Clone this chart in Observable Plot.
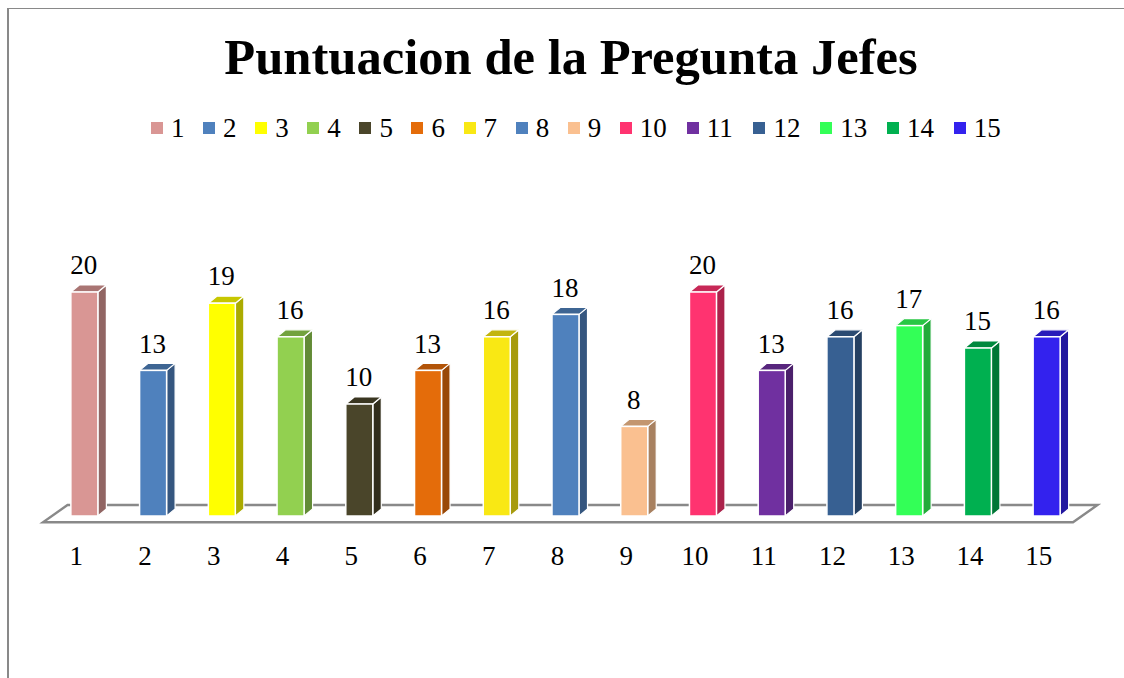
<!DOCTYPE html>
<html lang="es">
<head>
<meta charset="utf-8">
<script src="https://cdn.jsdelivr.net/npm/d3@7"></script>
<script src="https://cdn.jsdelivr.net/npm/@observablehq/plot@0.6"></script>
<style>
  html, body { margin: 0; padding: 0; background: #fff; overflow: hidden; }
  #page { position: relative; width: 1124px; height: 678px; font-family: "Liberation Serif", serif; color: #000; }
  #frame { position: absolute; left: 7px; top: 8px; width: 1117px; height: 670px; border-left: 2px solid #898989; border-top: 1.5px solid #898989; box-sizing: border-box; }
  #title { position: absolute; left: 0; top: 27px; width: 1142px; text-align: center; font-size: 50.6px; font-weight: bold; line-height: 60px; white-space: nowrap; }
  #legend { position: absolute; left: 151px; top: 112px; height: 32px; display: flex; align-items: center; font-size: 27px; line-height: 32px; }
  #legend .item { display: flex; align-items: center; }
  #legend .sw { display: inline-block; width: 12px; height: 12px; margin-right: 8px; }
  #chart { position: absolute; left: 0; top: 170.5px; }
</style>
</head>
<body>
<div id="page">
  <div id="frame"></div>
  <div id="title"></div>
  <div id="legend"></div>
  <div id="chart"></div>
</div>
<script>
const titleText = "Puntuacion de la Pregunta Jefes";
const categories = [1, 2, 3, 4, 5, 6, 7, 8, 9, 10, 11, 12, 13, 14, 15];
const values = [20, 13, 19, 16, 10, 13, 16, 18, 8, 20, 13, 16, 17, 15, 16];
const colors = ["#D99694", "#4F81BD", "#FFFF00", "#92D050", "#4A452A", "#E46C0A", "#F9E814", "#4F81BD", "#FAC090", "#FF3370", "#7030A0", "#376092", "#33FF57", "#00B050", "#3322EE"];

const data = categories.map((c, i) => ({category: c, value: values[i], color: colors[i]}));
const shade = (c, k) => { const r = d3.rgb(c); return d3.rgb(r.r * k, r.g * k, r.b * k).formatHex(); };
const depthX = 8.5, depthY = 7;

function svgEl(name, attrs) {
  const el = document.createElementNS("http://www.w3.org/2000/svg", name);
  for (const k in attrs) el.setAttribute(k, attrs[k]);
  return el;
}

function floorMark(index, scales, values, dim) {
  const g = svgEl("g", {});
  const y0 = scales.y(0);
  const left = dim.marginLeft - 7, right = dim.width - dim.marginRight - 8;
  const pts = [[left, y0 + 6.3], [right, y0 + 6.3], [right + 24.5, y0 - 11], [left + 24.5, y0 - 11]];
  g.appendChild(svgEl("polygon", {points: pts.join(" "), fill: "#fff", stroke: "#898989", "stroke-width": 2.4}));
  return g;
}

function facesMark(index, scales) {
  const g = svgEl("g", {stroke: "#fff", "stroke-width": 1.2, "stroke-linejoin": "round"});
  const b = scales.x.bandwidth;
  const bw = typeof b === "function" ? b() : b;
  const y0 = scales.y(0);
  for (const d of data) {
    const x1 = scales.x(d.category), x2 = x1 + bw, yt = scales.y(d.value);
    g.appendChild(svgEl("polygon", {
      points: [[x2, y0], [x2 + depthX, y0 - depthY], [x2 + depthX, yt - depthY], [x2, yt]].join(" "),
      fill: shade(d.color, 0.67)
    }));
    g.appendChild(svgEl("polygon", {
      points: [[x1, yt], [x1 + depthX, yt - depthY], [x2 + depthX, yt - depthY], [x2, yt]].join(" "),
      fill: shade(d.color, 0.78)
    }));
  }
  return g;
}

const chart = Plot.plot({
  width: 1124,
  height: 508,
  marginLeft: 50,
  marginRight: 43,
  marginTop: 65,
  marginBottom: 163,
  style: {fontFamily: '"Liberation Serif", serif', fontSize: "27px", color: "#000", background: "transparent", overflow: "visible"},
  x: {domain: categories, paddingInner: 0.607, paddingOuter: 0.3035, align: 0.5, round: false, label: null},
  y: {domain: [0, 25], label: null},
  marks: [
    floorMark,
    facesMark,
    Plot.barY(data, {x: "category", y: "value", fill: d => d.color, stroke: "#fff", strokeWidth: 1.5}),
    Plot.text(data, {x: "category", y: "value", text: d => String(d.value), dy: -27, dx: -1, fontSize: 27, fill: "#000"}),
    Plot.axisX({anchor: "bottom", tickSize: 0, tickPadding: 29, dx: -8.5, fontSize: 27, label: null, fill: "#000"}),
    Plot.axisY({ticks: [], label: null, tickSize: 0})
  ]
});
document.getElementById("chart").appendChild(chart);

document.getElementById("title").textContent = titleText;
const legend = document.getElementById("legend");
categories.forEach((c, i) => {
  const item = document.createElement("span");
  item.className = "item";
  item.style.width = (c < 10 ? 52.1 : 66.8) + "px";
  const sw = document.createElement("span");
  sw.className = "sw";
  sw.style.background = colors[i];
  const t = document.createElement("span");
  t.textContent = c;
  item.append(sw, t);
  legend.appendChild(item);
});
</script>
</body>
</html>
